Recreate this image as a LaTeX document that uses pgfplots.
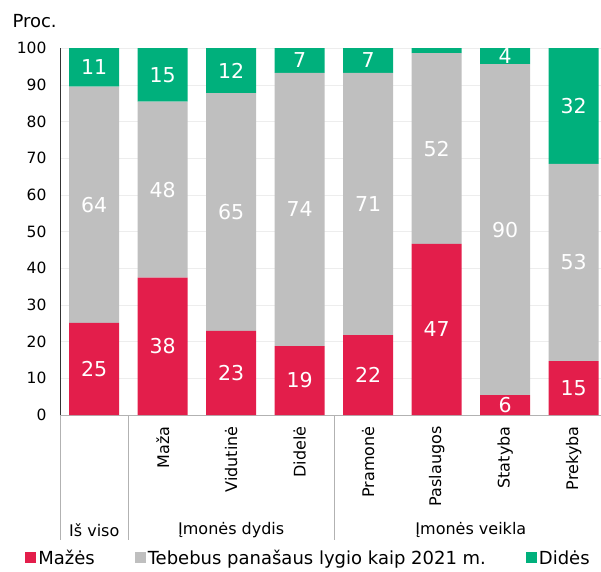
\documentclass[border=0pt]{standalone}
\usepackage{pgfplots}
\pgfplotsset{compat=1.18}
\usepackage{fontspec}
\setmainfont{DejaVu Sans}
\definecolor{cred}{HTML}{E31E4B}
\definecolor{cgray}{HTML}{BFBFBF}
\definecolor{cgreen}{HTML}{00B07C}
\pgfplotsset{
 common/.style={scale only axis, width=541pt, height=367pt,
   xmin=-0.5, xmax=7.4, ymin=0, ymax=100, clip=false},
}
\begin{document}
\begin{tikzpicture}
\begin{axis}[
 name=ax,
 common,
 ybar stacked,
 ytick={0,10,...,100},
 xtick={0,...,7},
 xticklabels={{},Maža,Vidutinė,Didelė,Pramonė,Paslaugos,Statyba,Prekyba},
 xticklabel style={yshift=-8pt, rotate=90, anchor=east, font=\fontsize{16}{19}\selectfont},
 yticklabel style={xshift=-10pt, font=\fontsize{15.5}{18}\selectfont},
 /pgf/number format/assume math mode=true,
 major tick length=0pt,
 axis x line*=bottom, axis y line*=left,
 x axis line style={draw=black!30, -},
 y axis line style={draw=black!80, -},
 ymajorgrids, grid style={black!7},
 bar width=50pt,
 legend columns=3,
 legend image code/.code={\fill[#1] (0pt,-5.5pt) rectangle (11pt,5.5pt);},
 legend style={at={(axis description cs:0.4593,-0.3896)}, anchor=center, draw=none, fill=none,
   font=\fontsize{18}{21}\selectfont,
   /tikz/every even column/.append style={column sep=38pt}},
]
\addplot[fill=cred, draw=none] coordinates {(0,25.1) (1,37.4) (2,22.9) (3,18.8) (4,21.8) (5,46.6) (6,5.4) (7,14.7)};
\addplot[fill=cgray, draw=none] coordinates {(0,64.4) (1,48.0) (2,64.8) (3,74.4) (4,71.4) (5,52.0) (6,90.2) (7,53.7)};
\addplot[fill=cgreen, draw=none] coordinates {(0,10.5) (1,14.6) (2,12.3) (3,6.8) (4,6.8) (5,1.4) (6,4.4) (7,31.6)};
\legend{Mažės, Tebebus panašaus lygio kaip 2021 m., Didės}
\draw[black!30] (axis cs:-0.5,0) -- ++(0pt,-125pt);
\draw[black!30] (axis cs:0.5,0) -- ++(0pt,-125pt);
\draw[black!30] (axis cs:3.5,0) -- ++(0pt,-125pt);
\node[font=\fontsize{16}{19}\selectfont] at ([yshift=-115pt]axis cs:0,0) {Iš viso};
\node[font=\fontsize{16}{19}\selectfont] at ([yshift=-115pt]axis cs:2,0) {Įmonės dydis};
\node[font=\fontsize{16}{19}\selectfont] at ([yshift=-115pt]axis cs:5.5,0) {Įmonės veikla};
\node[anchor=base west, font=\fontsize{18}{21}\selectfont] at ([xshift=-51pt,yshift=20pt]axis cs:-0.5,100) {Proc.};
\end{axis}
\begin{axis}[
 common, at={(ax.south west)}, anchor=south west, hide axis,
 nodes near coords, point meta=explicit symbolic,
 every node near coord/.append style={anchor=center, text=white, font=\fontsize{20.5}{24}\selectfont},
]
% label positions: middle of each segment
\addplot[draw=none, mark=none] coordinates {(0,12.55)[25] (1,18.7)[38] (2,11.45)[23] (3,9.4)[19] (4,10.9)[22] (5,23.3)[47] (6,2.7)[6] (7,7.35)[15]};
\addplot[draw=none, mark=none] coordinates {(0,57.3)[64] (1,61.4)[48] (2,55.3)[65] (3,56.0)[74] (4,57.5)[71] (5,72.6)[52] (6,50.5)[90] (7,41.55)[53]};
\addplot[draw=none, mark=none] coordinates {(0,94.75)[11] (1,92.7)[15] (2,93.85)[12] (3,96.6)[7] (4,96.6)[7] (6,97.8)[4] (7,84.2)[32]};
\end{axis}
\pgfresetboundingbox
\path ([xshift=-60pt,yshift=-156pt]ax.south west) rectangle ([yshift=48pt]ax.north east);
\end{tikzpicture}
\end{document}
